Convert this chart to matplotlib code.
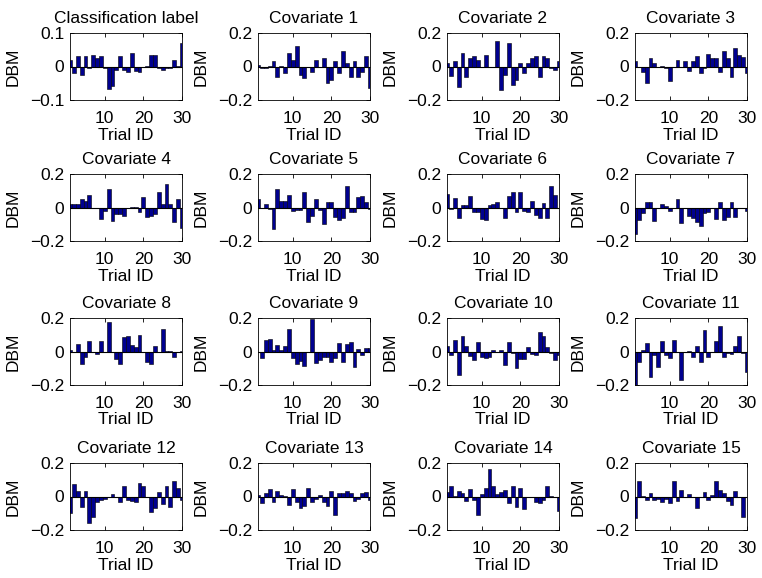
import numpy as np
import matplotlib.pyplot as plt

plt.rcParams['font.family'] = ['Liberation Sans', 'DejaVu Sans']

trial_id = np.arange(1, 31)

titles = ['Classification label'] + ['Covariate %d' % k for k in range(1, 16)]

class_label = [0.02, -0.02, 0.03, -0.025, 0.03, -0.005, 0.035, 0.025, 0.03, -0.003,
               -0.068, -0.058, -0.01, 0.03, -0.01, -0.015, 0.04, -0.012, -0.015, 0.0,
               0.002, 0.035, 0.035, -0.005, -0.01, -0.005, -0.005, 0.02, 0.002, 0.07]
cov1 = [0.01, -0.01, -0.01, 0.005, 0.03, -0.06, 0.005, -0.04, 0.08, 0.04,
        0.125, -0.05, -0.07, 0.0, -0.03, 0.04, 0.0, 0.05, -0.1, -0.08,
        0.03, -0.04, 0.09, 0.02, -0.06, 0.03, -0.06, -0.03, 0.06, -0.13]
cov2 = [0.02, -0.055, 0.03, -0.12, 0.08, -0.06, 0.05, 0.06, 0.04, 0.0,
        0.07, 0.0, 0.0, 0.15, -0.14, -0.05, 0.14, -0.11, -0.08, 0.02,
        -0.04, 0.02, 0.05, 0.06, -0.06, 0.065, 0.05, -0.01, -0.02, 0.03]
cov3 = [0.03, 0.0, -0.03, -0.1, 0.05, 0.02, 0.0, 0.005, -0.01, -0.085,
        0.0, 0.04, 0.0, 0.03, -0.025, 0.03, 0.065, -0.04, -0.01, 0.075,
        0.05, 0.05, -0.03, 0.09, 0.05, -0.06, 0.11, 0.07, 0.055, -0.04]
cov4 = [0.02, 0.02, 0.02, 0.05, 0.04, 0.075, 0.0, 0.0, -0.07, -0.02,
        0.11, -0.08, -0.04, -0.04, -0.05, 0.0, 0.005, 0.005, -0.025, 0.06,
        -0.055, -0.05, -0.04, 0.09, 0.02, 0.14, 0.02, -0.085, 0.05, -0.12]
cov5 = [0.05, 0.0, 0.02, -0.01, -0.13, 0.11, 0.04, 0.04, 0.075, -0.02,
        -0.015, -0.015, 0.095, -0.085, -0.05, 0.05, -0.015, -0.1, 0.03, 0.035,
        -0.055, -0.075, -0.06, 0.13, -0.025, -0.025, 0.06, 0.07, 0.03, -0.01]
cov6 = [0.08, -0.01, 0.055, -0.06, 0.015, 0.015, 0.07, -0.025, -0.025, -0.07,
        -0.075, 0.015, 0.02, 0.03, 0.0, -0.065, 0.07, 0.09, -0.025, 0.09,
        -0.02, -0.025, 0.04, -0.045, -0.065, 0.025, -0.06, 0.13, 0.075, 0.0]
cov7 = [-0.16, -0.075, -0.03, 0.03, 0.03, -0.08, 0.0, 0.02, 0.01, -0.02,
        0.0, 0.05, -0.09, 0.0, -0.05, -0.065, -0.085, -0.11, -0.035, -0.025,
        0.0, -0.07, 0.035, -0.075, -0.055, 0.035, -0.055, 0.0, 0.0, -0.02]
cov8 = [0.01, 0.0, 0.045, -0.075, -0.03, 0.06, 0.0, -0.015, 0.06, 0.0,
        0.175, 0.0, -0.045, -0.075, 0.085, 0.09, 0.04, 0.025, 0.1, 0.0,
        -0.065, -0.075, 0.03, -0.005, 0.135, 0.005, 0.005, -0.03, 0.0, 0.005]
cov9 = [0.0, -0.04, 0.07, 0.075, 0.01, 0.04, 0.01, 0.035, 0.135, -0.04,
        -0.075, -0.055, -0.085, 0.0, 0.195, -0.07, -0.05, -0.03, -0.03, -0.065,
        -0.04, 0.05, -0.06, 0.045, 0.055, -0.09, 0.015, -0.02, 0.02, 0.02]
cov10 = [0.035, -0.02, 0.07, -0.14, 0.09, 0.035, -0.025, -0.05, 0.055, -0.035,
         -0.04, -0.03, 0.01, 0.0, 0.01, -0.08, 0.055, -0.01, -0.1, -0.045,
         -0.045, 0.025, -0.015, -0.02, 0.115, 0.09, 0.025, -0.01, -0.05, -0.02]
cov11 = [-0.2, -0.06, 0.01, 0.05, -0.15, -0.02, -0.09, 0.06, -0.02, -0.04,
         0.07, 0.0, -0.17, 0.0, 0.005, -0.035, 0.03, -0.06, 0.13, -0.03,
         0.0, 0.06, 0.15, -0.03, -0.01, -0.015, 0.035, 0.09, -0.01, -0.12]
cov12 = [-0.1, 0.075, 0.03, -0.06, 0.035, -0.16, -0.12, -0.035, -0.02, -0.015,
         0.0, 0.015, 0.0, -0.03, 0.06, -0.02, -0.025, -0.035, 0.08, 0.065,
         0.0, -0.09, -0.07, 0.025, -0.045, 0.06, -0.065, 0.09, 0.05, -0.02]
cov13 = [0.01, -0.04, 0.02, 0.045, -0.03, 0.035, 0.01, 0.005, -0.05, 0.045,
         -0.035, -0.07, -0.055, 0.05, -0.03, -0.015, 0.01, -0.035, -0.055, 0.03,
         -0.11, 0.02, 0.02, 0.035, 0.02, -0.025, -0.015, 0.02, 0.025, -0.02]
cov14 = [0.025, 0.065, 0.005, 0.035, 0.02, -0.025, 0.045, -0.02, -0.11, 0.015,
         0.05, 0.165, 0.065, 0.015, 0.025, 0.04, -0.04, 0.065, -0.065, 0.05,
         -0.075, 0.0, 0.0, -0.035, -0.04, -0.02, 0.06, 0.005, 0.0, -0.085]
cov15 = [-0.13, 0.09, 0.005, -0.02, 0.02, -0.02, -0.015, -0.035, -0.015, -0.04,
         0.09, -0.025, 0.04, 0.0, 0.015, 0.0, -0.07, 0.0, 0.025, -0.02,
         0.01, 0.09, 0.04, 0.02, -0.025, -0.05, 0.03, 0.0, -0.12, 0.0]

series = [class_label, cov1, cov2, cov3, cov4, cov5, cov6, cov7,
          cov8, cov9, cov10, cov11, cov12, cov13, cov14, cov15]

W, H = 762, 578
fig = plt.figure(figsize=(W / 100, H / 100), dpi=100)

# axes boxes in pixels
lefts = [70, 258, 447, 635]
tops = [33, 174, 318, 463]
aw, ah = 112, 67

for k, (title, vals) in enumerate(zip(titles, series)):
    r, c = divmod(k, 4)
    ax = fig.add_axes([lefts[c] / W, 1 - (tops[r] + ah) / H, aw / W, ah / H])
    ax.bar(trial_id, vals, width=1.0, color=(0, 0, 0.5625), edgecolor='k', linewidth=0.4)
    ax.axhline(0, color='k', lw=0.8)
    ax.set_xlim(1, 30)
    lim = 0.1 if k == 0 else 0.2
    ax.set_ylim(-lim, lim)
    ax.set_yticks([-lim, 0, lim])
    ax.set_yticklabels(['\u2212%g' % lim, '0', '%g' % lim])
    ax.set_xticks([10, 20, 30])
    ax.tick_params(direction='in', top=True, right=True, length=3, width=0.6, labelsize=12.5)
    ax.tick_params(axis='x', pad=8)
    ax.tick_params(axis='y', pad=4)
    for s in ax.spines.values():
        s.set_linewidth(0.6)
    ax.set_title(title, fontsize=12.5, pad=7)
    ax.set_ylabel('DBM', fontsize=12.5, labelpad=7)
    ax.set_xlabel('Trial ID', fontsize=12.5, labelpad=1)

plt.savefig('out.png', dpi=100)
